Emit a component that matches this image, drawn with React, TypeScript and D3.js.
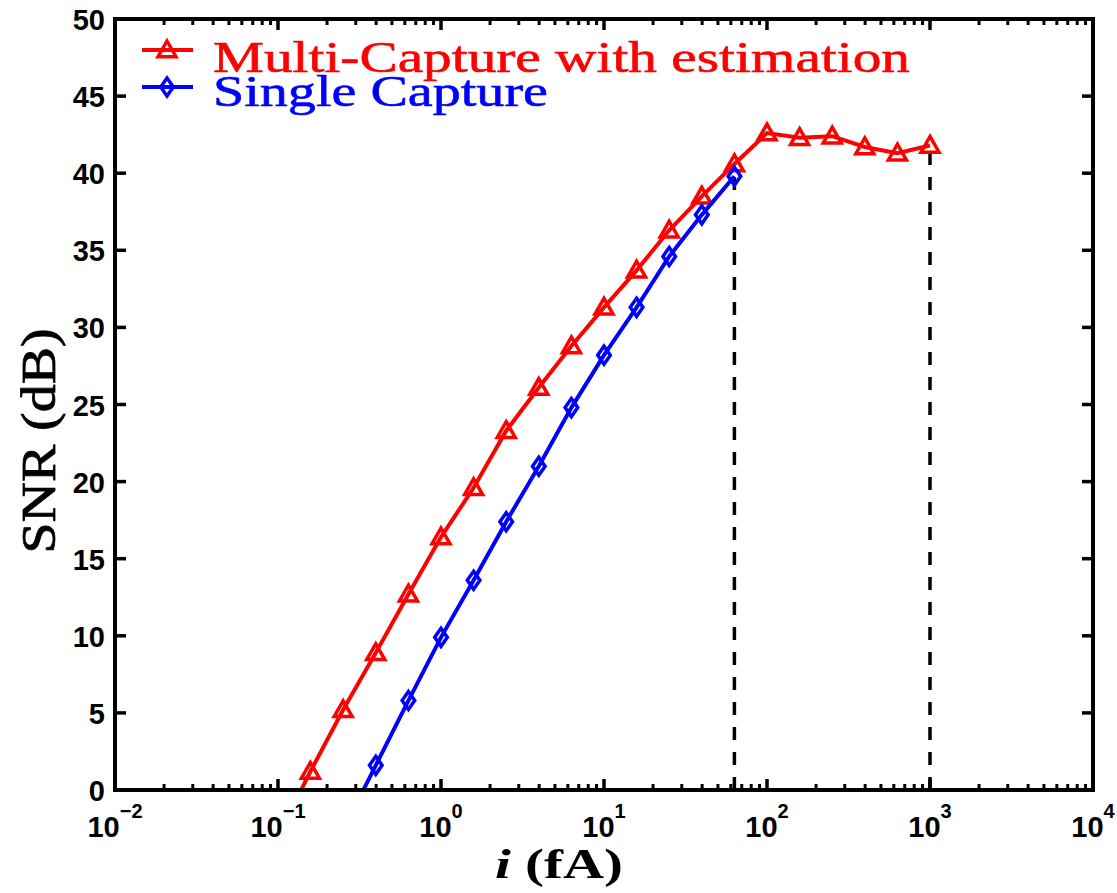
import React from 'react';
import * as d3 from 'd3';

// values
const multiX = [0.1, 0.158, 0.251, 0.398, 0.631, 1, 1.585, 2.512, 3.981, 6.31, 10, 15.85, 25.12, 39.81, 63.1, 100, 158.5, 251.2, 398.1, 631, 1000];
const multiY = [-3.0, 1.2, 5.2, 8.9, 12.7, 16.4, 19.6, 23.3, 26.1, 28.8, 31.3, 33.7, 36.3, 38.5, 40.6, 42.6, 42.3, 42.4, 41.7, 41.3, 41.8];
const singleX = [0.251, 0.398, 0.631, 1, 1.585, 2.512, 3.981, 6.31, 10, 15.85, 25.12, 39.81, 63.1];
const singleY = [-2.6, 1.6, 5.8, 9.9, 13.6, 17.4, 21.0, 24.8, 28.2, 31.3, 34.6, 37.3, 39.8];
const dashedX = [63.1, 1000];
const dashedTop = [39.8, 41.8];
const xTicks = [-2, -1, 0, 1, 2, 3, 4];
const yTicks = [0, 5, 10, 15, 20, 25, 30, 35, 40, 45, 50];
const legendLabels = ['Multi-Capture with estimation', 'Single Capture'];

const W = 1117;
const H = 893;
const margin = { left: 115, right: 24, top: 19, bottom: 103 };

const serif = 'Liberation Serif, Times New Roman, serif';
const sans = 'Liberation Sans, Arial, sans-serif';

const App = () => {
  const x = d3.scaleLog().domain([1e-2, 1e4]).range([margin.left, W - margin.right]);
  const y = d3.scaleLinear().domain([0, 50]).range([H - margin.bottom, margin.top]);
  const x0 = margin.left, x1 = W - margin.right, y0 = H - margin.bottom, y1 = margin.top;

  const line = d3.line<[number, number]>().x((d) => x(d[0])).y((d) => y(d[1]));
  const multi = multiX.map((v, i) => [v, multiY[i]] as [number, number]);
  const single = singleX.map((v, i) => [v, singleY[i]] as [number, number]);

  // minor ticks of the log axis
  const minor: number[] = [];
  for (let e = -2; e < 4; e++) for (let k = 2; k <= 9; k++) minor.push(k * Math.pow(10, e));

  const tri = (cx: number, cy: number, s = 9) =>
    `M${cx},${cy - s}L${cx + s},${cy + s * 0.75}L${cx - s},${cy + s * 0.75}Z`;
  const dia = (cx: number, cy: number, s = 9) =>
    `M${cx},${cy - s}L${cx + s * 0.7},${cy}L${cx},${cy + s}L${cx - s * 0.7},${cy}Z`;

  const red = '#ff0000';
  const blue = '#0000ff';

  return (
    <svg width={W} height={H} style={{ display: 'block', position: 'absolute', left: 0, top: 0 }}>
      <rect width={W} height={H} fill="#fff" />
      <defs>
        <clipPath id="plot-clip">
          <rect x={x0} y={y1} width={x1 - x0} height={y0 - y1} />
        </clipPath>
      </defs>

      {/* dashed guides */}
      {dashedX.map((d, i) => (
        <line key={i} x1={x(d)} x2={x(d)} y1={y(0)} y2={y(dashedTop[i])}
          stroke="#000" strokeWidth={3.5} strokeDasharray="13,12" />
      ))}

      <g clipPath="url(#plot-clip)">
        <path d={line(multi) || ''} fill="none" stroke={red} strokeWidth={4} />
        {multi.map((d, i) => (
          <path key={i} d={tri(x(d[0]), y(d[1]))} fill="none" stroke={red} strokeWidth={3.5} />
        ))}
        <path d={line(single) || ''} fill="none" stroke={blue} strokeWidth={4} />
        {single.map((d, i) => (
          <path key={i} d={dia(x(d[0]), y(d[1]))} fill="none" stroke={blue} strokeWidth={3.5} />
        ))}
      </g>

      {/* axes box */}
      <rect x={x0} y={y1} width={x1 - x0} height={y0 - y1} fill="none" stroke="#000" strokeWidth={4} />

      {/* x ticks */}
      {xTicks.map((e) => {
        const px = x(Math.pow(10, e));
        return (
          <g key={e}>
            <line x1={px} x2={px} y1={y0} y2={y0 - 11} stroke="#000" strokeWidth={3.5} />
            <line x1={px} x2={px} y1={y1} y2={y1 + 11} stroke="#000" strokeWidth={3.5} />
            <text x={px} y={837} textAnchor="middle" fontFamily={sans} fontWeight="bold" fontSize={29}>
              10
              <tspan dy={-19} fontSize={20}>{e < 0 ? '\u2212' + -e : e}</tspan>
            </text>
          </g>
        );
      })}
      {minor.map((v, i) => {
        const px = x(v);
        return (
          <g key={i}>
            <line x1={px} x2={px} y1={y0} y2={y0 - 6} stroke="#000" strokeWidth={3} />
            <line x1={px} x2={px} y1={y1} y2={y1 + 6} stroke="#000" strokeWidth={3} />
          </g>
        );
      })}

      {/* y ticks */}
      {yTicks.map((t) => {
        const py = y(t);
        return (
          <g key={t}>
            <line x1={x0} x2={x0 + 11} y1={py} y2={py} stroke="#000" strokeWidth={3.5} />
            <line x1={x1} x2={x1 - 11} y1={py} y2={py} stroke="#000" strokeWidth={3.5} />
            <text x={x0 - 10} y={py + 11} textAnchor="end" fontFamily={sans}
              fontWeight="bold" fontSize={29}>{t}</text>
          </g>
        );
      })}

      {/* axis labels */}
      <text transform={`translate(55,${441}) rotate(-90)`} textAnchor="middle"
        fontFamily={serif} fontSize={48} stroke="#000" strokeWidth={0.8}
        textLength={225} lengthAdjust="spacingAndGlyphs">SNR (dB)</text>
      <text x={559} y={878} textAnchor="middle" fontFamily={serif} fontWeight="bold" fontSize={42}
        textLength={128} lengthAdjust="spacingAndGlyphs">
        <tspan fontStyle="italic">i</tspan> (fA)
      </text>

      {/* legend */}
      <g>
        <line x1={142} x2={193} y1={50} y2={50} stroke={red} strokeWidth={4} />
        <path d={tri(167, 50, 9)} fill="none" stroke={red} strokeWidth={3.5} />
        <text x={213} y={72} fill={red} stroke={red} strokeWidth={0.6} fontFamily={serif} fontSize={44}
          textLength={697} lengthAdjust="spacingAndGlyphs">{legendLabels[0]}</text>
        <line x1={142} x2={193} y1={87} y2={87} stroke={blue} strokeWidth={4} />
        <path d={dia(167, 87, 9)} fill="none" stroke={blue} strokeWidth={3.5} />
        <text x={213} y={106} fill={blue} stroke={blue} strokeWidth={0.6} fontFamily={serif} fontSize={44}
          textLength={335} lengthAdjust="spacingAndGlyphs">{legendLabels[1]}</text>
      </g>
    </svg>
  );
};

export default App;
